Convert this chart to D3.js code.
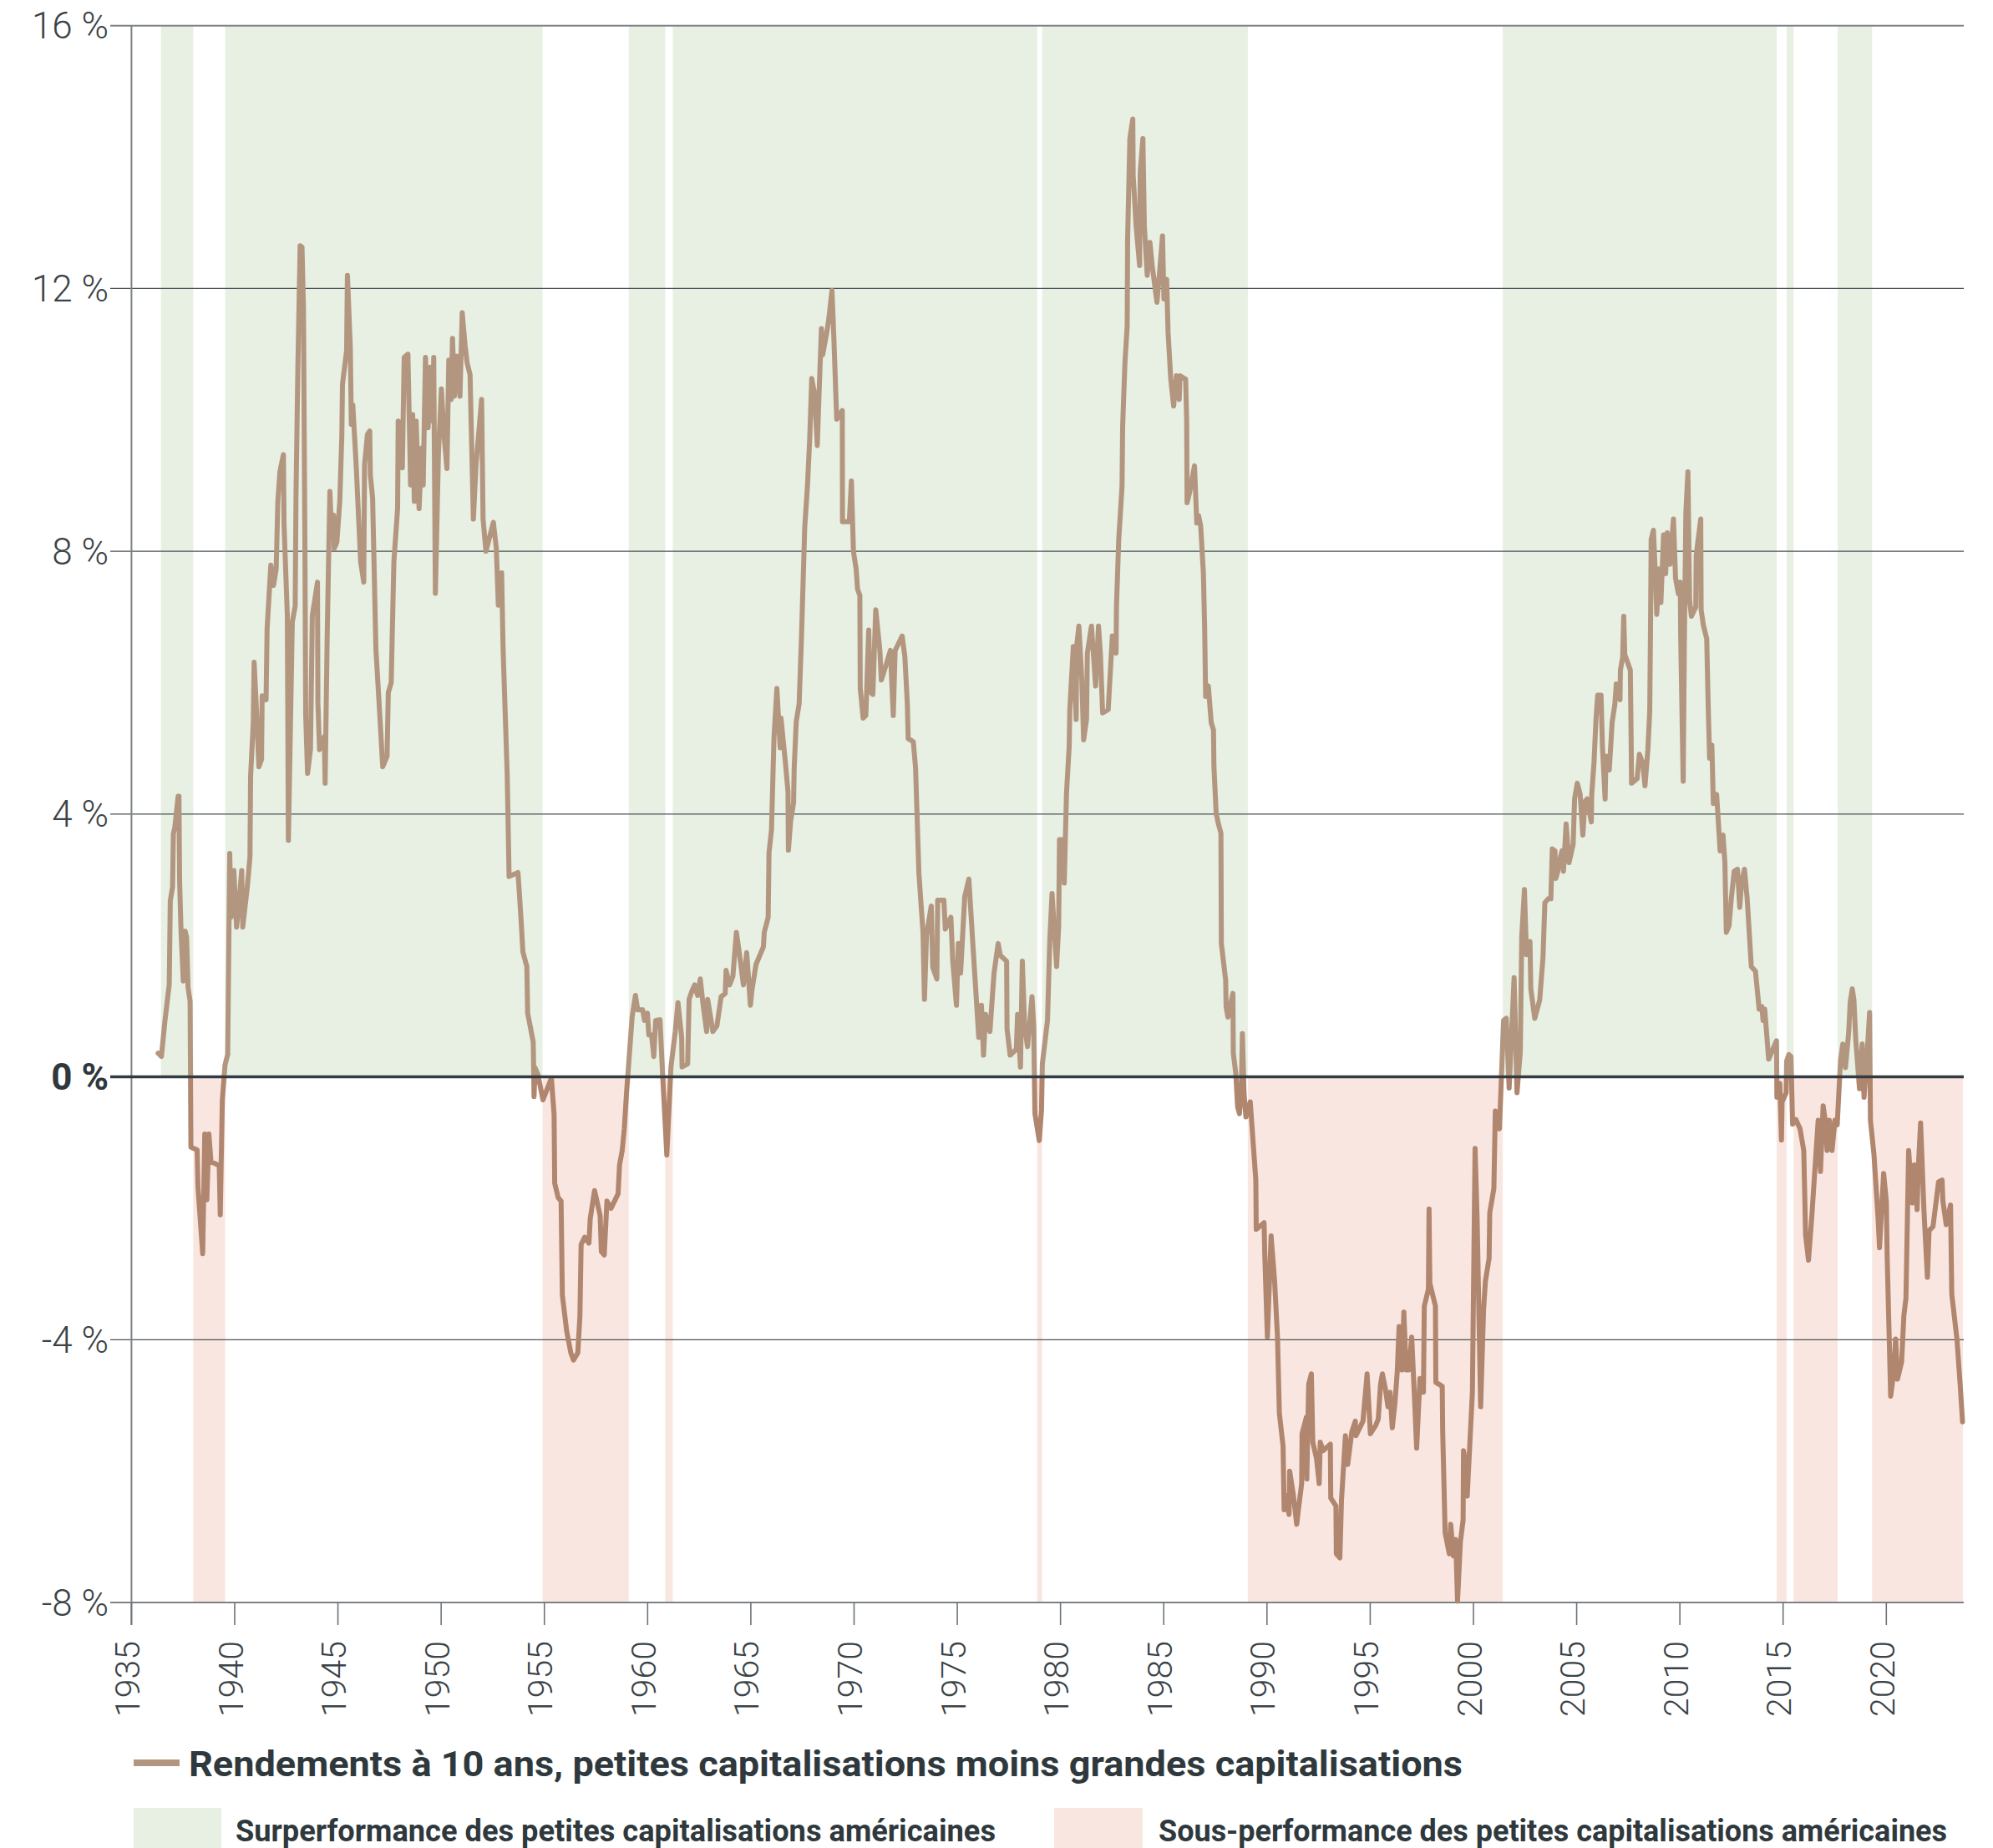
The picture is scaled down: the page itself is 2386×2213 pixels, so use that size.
<!DOCTYPE html>
<html><head><meta charset="utf-8">
<script src="https://cdn.jsdelivr.net/npm/d3@7"></script>
<style>body{margin:0;background:#fff}svg{display:block}</style>
</head><body><svg id="chart" width="2386" height="2213"></svg>
<script>
// ---- data ----
const years = [
1936.29,1936.45,1936.62,1936.83,1936.88,1936.99,1937.03,1937.10,1937.26,1937.30,1937.33,1937.40,1937.51,1937.60,1937.67,1937.74,1937.84,1937.88,
1938.18,1938.22,1938.45,1938.55,1938.65,1938.75,1938.85,1939.25,1939.30,1939.40,1939.53,1939.66,1939.76,1939.82,1939.96,
1940.09,1940.23,1940.34,1940.39,1940.61,1940.74,1940.77,1940.90,1940.94,1941.07,1941.17,1941.30,1941.33,1941.52,1941.57,1941.75,1941.88,
1942.01,1942.09,1942.19,1942.36,1942.39,1942.55,1942.60,1942.79,1942.93,1942.97,1943.06,1943.17,1943.26,1943.33,1943.40,1943.44,1943.53,1943.67,1943.76,
1944.01,1944.03,1944.11,1944.25,1944.34,1944.38,1944.48,1944.61,1944.68,1944.79,1944.82,1944.95,1945.09,1945.19,1945.22,1945.42,1945.46,1945.60,1945.65,1945.72,1945.89,
1946.10,1946.25,1946.29,1946.43,1946.54,1946.57,1946.68,1946.84,1947.04,1947.17,1947.38,1947.44,1947.58,1947.71,1947.89,1947.92,
1948.12,1948.21,1948.39,1948.52,1948.62,1948.70,1948.79,1948.93,1949.06,1949.13,1949.24,1949.37,1949.47,1949.60,1949.64,1949.72,1949.87,
1950.01,1950.14,1950.28,1950.37,1950.48,1950.55,1950.64,1950.75,1950.91,1951.02,1951.16,1951.26,1951.40,1951.56,1951.69,1951.96,
1952.03,1952.17,1952.53,1952.67,1952.77,1952.93,1953.00,1953.20,1953.29,1953.72,1953.78,1953.88,1953.96,1954.15,1954.19,1954.46,1954.50,1954.55,1954.69,1954.93,
1955.34,1955.47,1955.50,1955.67,1955.81,1955.87,1956.08,1956.28,1956.41,1956.62,1956.72,1956.78,1956.95,1957.16,1957.22,1957.43,1957.70,1957.76,1957.90,
1958.03,1958.23,1958.57,1958.64,1958.77,1958.87,1958.98,1959.11,1959.25,1959.41,1959.52,1959.76,1959.85,1959.99,1960.06,1960.19,1960.30,1960.39,
1960.60,1960.73,1960.93,1961.13,1961.34,1961.47,1961.65,1961.67,1961.94,1962.01,1962.15,1962.28,1962.42,1962.55,1962.69,1962.86,1962.91,
1963.16,1963.36,1963.56,1963.76,1963.80,1963.97,1964.13,1964.30,1964.44,1964.64,1964.80,1964.98,1965.05,1965.25,1965.61,1965.65,1965.84,1965.88,
1966.00,1966.12,1966.26,1966.42,1966.46,1966.66,1966.80,1966.82,1966.93,1967.07,1967.10,1967.20,1967.34,1967.45,1967.61,1967.74,1967.85,1967.95,
1968.08,1968.22,1968.31,1968.42,1968.48,1968.69,1968.79,1968.93,1969.02,1969.16,1969.43,1969.44,1969.77,1969.87,1969.97,
1970.10,1970.17,1970.28,1970.30,1970.44,1970.57,1970.71,1970.78,1970.91,1971.05,1971.25,1971.32,1971.59,1971.76,1971.90,1971.99,
1972.33,1972.46,1972.58,1972.62,1972.87,1972.98,1973.14,1973.34,1973.41,1973.51,1973.74,1973.81,1974.01,1974.05,1974.35,1974.42,1974.69,1974.78,1974.96,
1975.05,1975.16,1975.36,1975.56,1975.77,1976.04,1976.17,1976.27,1976.37,1976.58,1976.78,1976.98,1977.08,1977.39,1977.41,1977.56,1977.86,1977.92,
1978.06,1978.15,1978.26,1978.40,1978.62,1978.70,1978.76,1978.97,1979.08,1979.12,1979.37,1979.48,1979.59,1979.81,1979.91,1979.95,
1980.12,1980.18,1980.29,1980.42,1980.45,1980.62,1980.76,1980.78,1980.89,1981.03,1981.12,1981.26,1981.30,1981.50,1981.70,1981.84,1981.93,
1982.04,1982.31,1982.51,1982.69,1982.71,1982.82,1982.98,1983.01,1983.12,1983.23,1983.25,1983.36,1983.50,1983.52,1983.66,1983.83,1983.86,1983.99,
1984.06,1984.20,1984.33,1984.44,1984.67,1984.80,1984.94,1985.01,1985.14,1985.21,1985.34,1985.48,1985.61,1985.75,1985.79,
1986.06,1986.11,1986.13,1986.25,1986.49,1986.60,1986.69,1986.79,1986.92,1986.98,1987.03,1987.16,1987.30,1987.41,1987.43,1987.54,1987.64,1987.77,1987.79,
1988.00,1988.02,1988.11,1988.35,1988.37,1988.49,1988.58,1988.67,1988.76,1988.81,1988.89,1988.98,1989.19,1989.46,1989.48,1989.86,1989.89,
1990.02,1990.20,1990.37,1990.51,1990.60,1990.78,1990.83,1990.91,1991.07,1991.10,1991.28,1991.44,1991.51,1991.68,1991.70,1991.91,1991.93,
1992.02,1992.15,1992.22,1992.40,1992.53,1992.58,1992.72,1993.07,1993.09,1993.34,1993.36,1993.53,1993.61,1993.80,1993.91,
1994.11,1994.28,1994.31,1994.65,1994.85,1995.01,1995.26,1995.39,1995.50,1995.59,1995.73,1995.86,1995.96,
1996.07,1996.20,1996.31,1996.40,1996.54,1996.63,1996.74,1996.87,1997.01,1997.12,1997.25,1997.41,1997.58,1997.62,1997.82,1997.85,1997.89,
1998.16,1998.18,1998.49,1998.51,1998.63,1998.83,1998.90,1999.03,1999.14,1999.23,1999.37,1999.50,1999.52,1999.62,1999.70,1999.95,
2000.08,2000.18,2000.35,2000.49,2000.58,2000.76,2000.79,2000.99,2001.06,2001.26,2001.46,2001.59,2001.73,2001.97,
2002.11,2002.27,2002.34,2002.47,2002.57,2002.74,2002.78,2002.97,2003.21,2003.37,2003.46,2003.62,2003.75,2003.82,2003.95,2003.99,
2004.09,2004.18,2004.29,2004.36,2004.49,2004.63,2004.83,2004.90,2005.03,2005.17,2005.30,2005.40,2005.51,2005.71,2005.73,2005.84,2005.94,
2006.02,2006.18,2006.25,2006.38,2006.42,2006.58,2006.72,2006.85,2006.92,2007.10,2007.12,2007.23,2007.28,2007.33,2007.60,2007.64,2007.66,2007.93,
2008.04,2008.20,2008.31,2008.45,2008.54,2008.58,2008.61,2008.72,2008.81,2008.88,2008.98,2009.08,2009.21,2009.31,2009.39,2009.52,2009.69,2009.79,2009.93,
2010.02,2010.04,2010.16,2010.22,2010.29,2010.39,2010.47,2010.56,2010.77,2010.79,2011.01,2011.03,2011.14,2011.30,2011.37,2011.44,2011.55,2011.62,2011.78,2011.95,
2012.09,2012.18,2012.25,2012.38,2012.49,2012.63,2012.79,2012.90,2012.99,2013.13,2013.26,2013.46,2013.66,2013.84,2013.97,
2014.03,2014.11,2014.30,2014.68,2014.70,2014.84,2014.92,2014.95,2015.15,2015.17,2015.28,2015.38,2015.46,2015.62,2015.82,
2016.00,2016.09,2016.23,2016.40,2016.56,2016.70,2016.81,2016.94,2017.04,2017.13,2017.24,2017.37,2017.51,2017.62,2017.78,2017.89,
2018.02,2018.18,2018.25,2018.35,2018.43,2018.52,2018.70,2018.83,2018.92,2019.06,2019.19,2019.23,2019.40,2019.60,2019.67,2019.87,
2020.00,2020.04,2020.21,2020.34,2020.45,2020.54,2020.74,2020.85,2020.95,2021.08,2021.26,2021.35,2021.49,2021.55,2021.66,2021.82,2021.99,
2022.07,2022.26,2022.53,2022.70,2022.74,2022.90,2023.11,2023.17,2023.42,2023.58,2023.69
];
const values = [
0.36,0.31,0.85,1.41,2.68,2.89,3.70,3.80,4.27,4.27,3.00,2.22,1.46,2.22,2.12,1.36,1.15,-1.07,
-1.11,-1.68,-2.69,-0.87,-1.87,-0.87,-1.29,-1.35,-2.10,-0.36,0.18,0.34,3.40,2.43,3.14,
2.28,2.73,3.14,2.28,2.89,3.35,4.57,5.39,6.31,5.49,4.72,4.83,5.80,5.74,6.82,7.79,7.48,
7.73,8.76,9.21,9.47,8.40,7.02,3.60,6.92,7.17,8.86,10.80,12.65,12.63,11.71,8.14,5.49,4.62,4.98,7.02,
7.53,5.69,4.98,5.13,5.18,4.47,6.71,8.91,8.40,8.55,8.04,8.14,8.76,9.78,10.54,11.05,12.20,11.10,9.93,10.23,9.27,
7.84,7.53,9.32,9.78,9.83,9.16,8.81,6.51,5.44,4.72,4.88,5.85,6.00,7.84,8.65,9.98,
9.27,10.95,11.00,9.01,10.08,8.76,9.98,8.65,9.57,9.01,10.95,9.88,10.80,9.98,10.95,7.36,9.50,
10.47,9.76,9.26,10.91,10.31,11.24,10.36,10.97,10.36,11.63,11.13,10.86,10.69,8.49,9.32,10.31,
8.49,8.00,8.44,8.05,7.18,7.67,6.52,4.59,3.05,3.11,2.84,2.34,1.90,1.68,0.97,0.53,-0.30,0.14,0.03,-0.35,
-0.02,-0.57,-1.62,-1.84,-1.89,-3.32,-3.87,-4.20,-4.31,-4.20,-3.65,-2.55,-2.44,-2.53,-2.16,-1.73,-2.11,-2.66,-2.71,
-1.89,-2.00,-1.78,-1.34,-1.12,-0.79,-0.24,0.31,0.91,1.24,1.02,1.02,0.86,0.97,0.64,0.64,0.31,0.86,
0.87,0.02,-1.19,0.15,0.69,1.13,0.60,0.15,0.20,1.18,1.31,1.40,1.24,1.49,1.09,0.69,1.18,
0.69,0.78,1.22,1.27,1.62,1.40,1.53,2.20,1.89,1.40,1.89,1.09,1.31,1.71,1.98,2.20,2.43,3.41,
3.76,5.15,5.91,5.01,5.46,4.83,4.34,3.45,3.90,4.17,4.70,5.41,5.68,6.66,8.36,8.98,9.70,10.63,
10.41,9.61,10.45,11.39,10.99,11.35,11.57,11.97,11.26,10.01,10.14,8.45,8.45,9.07,8.00,
7.73,7.42,7.33,5.91,5.46,5.50,6.80,5.86,5.82,7.11,6.49,6.04,6.31,6.49,5.50,6.49,
6.71,6.40,5.68,5.15,5.10,4.70,3.10,2.20,1.18,2.16,2.60,1.67,1.49,2.69,2.69,2.25,2.43,1.76,1.09,
2.03,1.58,2.74,3.01,1.94,0.60,1.09,0.33,0.95,0.69,1.58,2.03,1.85,1.76,0.73,0.33,0.42,0.95,
0.15,1.76,0.78,0.46,1.22,0.78,-0.56,-0.97,-0.50,0.20,0.86,2.08,2.79,1.68,2.29,3.61,
3.61,2.95,4.32,5.03,5.59,6.55,5.44,6.55,6.86,6.05,5.13,5.44,6.45,6.86,5.95,6.86,6.45,
5.54,5.59,6.71,6.45,7.16,8.18,8.99,9.91,10.87,11.43,12.75,14.28,14.58,13.72,12.96,12.35,13.77,14.28,
12.96,12.20,12.70,12.35,11.79,12.25,12.80,11.84,12.14,11.33,10.62,10.21,10.67,10.31,10.67,
10.62,10.01,8.74,8.89,9.30,8.43,8.54,8.38,7.67,6.86,5.79,5.95,5.39,5.28,4.73,4.01,3.86,3.71,2.03,
1.47,1.07,0.91,1.27,0.36,0.05,-0.46,-0.56,-0.15,0.66,-0.25,-0.61,-0.38,-1.57,-2.32,-2.22,-2.67,
-3.96,-2.42,-3.11,-3.96,-5.12,-5.62,-6.59,-6.37,-6.66,-6.00,-6.37,-6.81,-6.62,-6.19,-5.43,-5.18,-6.12,
-4.68,-4.52,-5.56,-5.81,-6.19,-5.56,-5.69,-5.59,-6.41,-6.53,-7.26,-7.32,-6.44,-5.46,-5.90,
-5.40,-5.24,-5.46,-5.24,-4.52,-5.43,-5.31,-5.21,-4.68,-4.52,-4.74,-5.02,-4.80,
-5.34,-4.96,-4.49,-3.80,-4.46,-3.58,-4.46,-4.46,-3.96,-4.71,-5.65,-4.59,-4.80,-3.49,-3.23,-2.01,-3.14,
-3.49,-4.65,-4.71,-5.37,-6.94,-7.26,-6.81,-7.29,-7.04,-7.98,-7.07,-6.75,-5.69,-5.90,-6.38,-4.80,
-1.09,-2.17,-5.02,-3.55,-3.11,-2.76,-2.07,-1.70,-0.52,-0.79,0.86,0.89,-0.17,1.51,
-0.24,0.38,2.13,2.85,1.86,2.06,1.34,0.89,1.17,1.82,2.65,2.71,2.71,3.47,3.44,3.02,
3.13,3.30,3.44,3.13,3.85,3.26,3.54,4.23,4.47,4.30,3.68,4.19,4.23,3.88,4.30,4.78,5.46,
5.81,5.81,5.02,4.23,4.88,4.67,5.40,5.67,5.98,5.74,6.19,6.39,7.01,6.43,6.19,5.12,4.47,4.54,
4.91,4.78,4.43,4.98,5.57,6.91,8.18,8.32,7.66,7.04,7.73,7.22,8.25,7.66,8.28,7.80,8.49,7.59,7.35,
7.53,6.70,4.50,6.70,8.59,9.21,7.25,7.01,7.15,7.94,8.49,7.11,6.87,6.67,5.67,4.85,5.05,4.16,4.30,3.44,
3.68,3.26,2.20,2.30,2.71,3.13,3.16,2.58,2.96,3.16,2.71,1.68,1.61,1.03,1.07,
0.86,1.03,0.27,0.55,-0.31,-0.10,-0.96,-0.38,-0.24,0.24,0.34,0.31,-0.72,-0.65,-0.79,
-1.12,-2.41,-2.79,-2.08,-1.31,-0.66,-1.44,-0.44,-0.66,-1.12,-0.66,-1.12,-0.66,-0.73,0.24,0.50,
0.14,0.69,1.14,1.34,1.17,0.56,-0.18,0.50,-0.31,0.30,0.98,-0.66,-1.18,-2.15,-2.60,-1.47,
-1.89,-2.73,-4.86,-4.54,-3.99,-4.60,-4.34,-3.63,-3.37,-1.12,-1.92,-1.34,-2.02,-1.37,-0.70,-2.02,-3.05,
-2.34,-2.28,-1.60,-1.57,-1.89,-2.25,-1.95,-3.31,-3.99,-4.70,-5.25
];
const outperfStart = [1936.43, 1939.54, 1959.09, 1961.22, 1979.11, 2001.42, 2015.17, 2017.64];
const outperfEnd   = [1937.99, 1954.91, 1960.85, 1978.87, 1989.07, 2014.69, 2015.51, 2019.31];
const underperfStart = [1937.99, 1954.91, 1960.85, 1978.87, 1989.07, 2014.69, 2015.51, 2019.31];
const underperfEnd   = [1939.54, 1959.09, 1961.22, 1979.11, 2001.42, 2015.17, 2017.64, 2023.71];
const yTicks = [16, 12, 8, 4, 0, -4, -8];
const yTickLabels = ["16 %", "12 %", "8 %", "4 %", "0 %", "-4 %", "-8 %"];
const xTicks = [1935,1940,1945,1950,1955,1960,1965,1970,1975,1980,1985,1990,1995,2000,2005,2010,2015,2020];
const legendLine = "Rendements à 10 ans, petites capitalisations moins grandes capitalisations";
const legendOut = "Surperformance des petites capitalisations américaines";
const legendUnder = "Sous-performance des petites capitalisations américaines";

// ---- drawing ----
const svg = d3.select("#chart");
const x = d3.scaleLinear().domain([1935, 2023.71]).range([157.4, 2350]);
const y = d3.scaleLinear().domain([-8, 16]).range([1919, 30.7]);
const GREEN = "#e8efe3", PINK = "#fae6e0";
const TXT = "#3a4347";
const FONT = "Roboto, 'Open Sans', sans-serif";

// bands
svg.append("g").selectAll("rect").data(outperfStart).join("rect")
  .attr("x", (d) => x(d)).attr("width", (d, i) => x(outperfEnd[i]) - x(d))
  .attr("y", y(16)).attr("height", y(0) - y(16)).attr("fill", GREEN);
svg.append("g").selectAll("rect").data(underperfStart).join("rect")
  .attr("x", (d) => x(d)).attr("width", (d, i) => x(underperfEnd[i]) - x(d))
  .attr("y", y(0)).attr("height", y(-8) - y(0)).attr("fill", PINK);

// gridlines (except zero)
const gx1 = 132, gx2 = 2351;
svg.append("g").selectAll("line").data(yTicks.filter(d => d !== 0)).join("line")
  .attr("x1", gx1).attr("x2", gx2).attr("y1", d => y(d)).attr("y2", d => y(d))
  .attr("stroke", d => (d === 16 || d === -8) ? "#7b8184" : "#4a5357")
  .attr("stroke-width", d => (d === 16 || d === -8) ? 2 : 1.3);

// left axis line
svg.append("line").attr("x1", x(1935)).attr("x2", x(1935)).attr("y1", y(16)).attr("y2", y(-8) + 27)
  .attr("stroke", "#7b8184").attr("stroke-width", 2);

// x ticks
svg.append("g").selectAll("line").data(xTicks).join("line")
  .attr("x1", d => x(d)).attr("x2", d => x(d)).attr("y1", y(-8)).attr("y2", y(-8) + 27)
  .attr("stroke", "#6e7477").attr("stroke-width", 1.6);

// x labels
svg.append("g").selectAll("text").data(xTicks).join("text")
  .attr("transform", d => `translate(${x(d) - 5},1965) rotate(-90)`)
  .attr("text-anchor", "end").attr("dy", "0.355em")
  .attr("font-family", FONT).attr("font-weight", 300).attr("font-size", 41)
  .attr("fill", TXT).text(d => d);

// y labels
svg.append("g").selectAll("text").data(yTicks).join("text")
  .attr("x", 130).attr("y", d => y(d)).attr("dy", "0.355em").attr("text-anchor", "end")
  .attr("font-family", FONT).attr("font-weight", d => d === 0 ? 700 : 300).attr("font-size", 44)
  .attr("fill", d => d === 0 ? "#2f383c" : TXT)
  .text((d, i) => yTickLabels[i]);

// line, two colours by sign
const defs = svg.append("defs");
defs.append("clipPath").attr("id", "clipPos").append("rect")
  .attr("x", 0).attr("y", 0).attr("width", 2386).attr("height", y(0));
defs.append("clipPath").attr("id", "clipNeg").append("rect")
  .attr("x", 0).attr("y", y(0)).attr("width", 2386).attr("height", 2213 - y(0));
const pts = years.map((d, i) => [d, values[i]]);
const lineGen = d3.line().x(d => x(d[0])).y(d => y(d[1]));
svg.append("path").attr("d", lineGen(pts)).attr("clip-path", "url(#clipPos)")
  .attr("fill", "none").attr("stroke", "#b3967f").attr("stroke-width", 6)
  .attr("stroke-linejoin", "round").attr("stroke-linecap", "round");
svg.append("path").attr("d", lineGen(pts)).attr("clip-path", "url(#clipNeg)")
  .attr("fill", "none").attr("stroke", "#b0866f").attr("stroke-width", 6)
  .attr("stroke-linejoin", "round").attr("stroke-linecap", "round");

// zero line on top
svg.append("line").attr("x1", gx1).attr("x2", gx2).attr("y1", y(0)).attr("y2", y(0))
  .attr("stroke", "#323b3f").attr("stroke-width", 3.5);

// legend
const lg = svg.append("g").attr("font-family", FONT).attr("fill", "#2f393d");
lg.append("rect").attr("x", 160).attr("y", 2107).attr("width", 55).attr("height", 8).attr("fill", "#b3967f");
lg.append("text").attr("x", 226).attr("y", 2127).attr("font-size", 42).attr("font-weight", 700)
  .attr("textLength", 1525).attr("lengthAdjust", "spacingAndGlyphs").text(legendLine);
lg.append("rect").attr("x", 160).attr("y", 2165).attr("width", 105).attr("height", 48).attr("fill", GREEN);
lg.append("text").attr("x", 282).attr("y", 2205).attr("font-size", 37).attr("font-weight", 700)
  .attr("textLength", 910).attr("lengthAdjust", "spacingAndGlyphs").text(legendOut);
lg.append("rect").attr("x", 1262).attr("y", 2165).attr("width", 106).attr("height", 48).attr("fill", PINK);
lg.append("text").attr("x", 1387).attr("y", 2205).attr("font-size", 37).attr("font-weight", 700)
  .attr("textLength", 944).attr("lengthAdjust", "spacingAndGlyphs").text(legendUnder);
</script>
</body></html>
